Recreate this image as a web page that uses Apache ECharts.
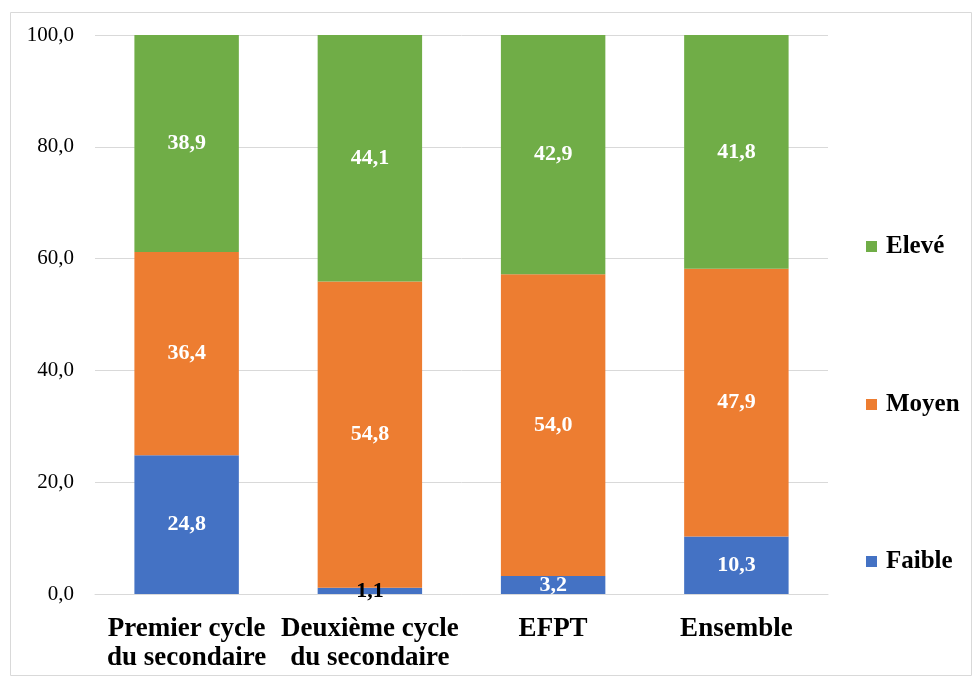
<!DOCTYPE html>
<html><head><meta charset="utf-8">
<script src="https://cdn.jsdelivr.net/npm/echarts@6/dist/echarts.min.js"></script>
<style>html,body{margin:0;padding:0;background:#fff}#c{width:973px;height:677px}</style>
</head><body><div id="c"></div>
<script>
const categories = ['Premier cycle\ndu secondaire', 'Deuxième cycle\ndu secondaire', 'EFPT', 'Ensemble'];
const faible = [24.8, 1.1, 3.2, 10.3];
const moyen = [36.4, 54.8, 54.0, 47.9];
const eleve = [38.9, 44.1, 42.9, 41.8];
const yTicks = [0, 20, 40, 60, 80, 100];

const FONT = '"Liberation Serif", "Times New Roman", serif';
const fmt = v => v.toFixed(1).replace('.', ',');
const lbl = {show: true, position: 'inside', color: '#fff', fontFamily: FONT, fontWeight: 'bold', fontSize: 22, formatter: p => fmt(p.value)};

const chart = echarts.init(document.getElementById('c'));
function legend(name, top) {
  return {data: [name], orient: 'vertical', left: 866, top: top, padding: 0, itemWidth: 11, itemHeight: 11, itemGap: 0,
    icon: 'rect', textStyle: {fontFamily: FONT, fontWeight: 'bold', fontSize: 25, color: '#000', padding: [0, 0, 0, 4]}, selectedMode: false};
}
chart.setOption({
  animation: false,
  graphic: [{type: 'rect', shape: {x: 10.5, y: 12.5, width: 961, height: 663}, style: {fill: 'none', stroke: '#d9d9d9', lineWidth: 1}, silent: true}],
  grid: {left: 95, right: 145, top: 35, bottom: 83},
  legend: [legend('Elevé', 234), legend('Moyen', 392), legend('Faible', 549)],
  xAxis: {type: 'category', data: categories,
    axisLine: {lineStyle: {color: '#d9d9d9'}}, axisTick: {show: false},
    axisLabel: {interval: 0, fontFamily: FONT, fontWeight: 'bold', fontSize: 27, color: '#000', lineHeight: 29, margin: 21}},
  yAxis: {type: 'value', min: yTicks[0], max: yTicks[yTicks.length - 1], interval: 20,
    axisLine: {show: false}, axisTick: {show: false},
    splitLine: {lineStyle: {color: '#d9d9d9'}},
    axisLabel: {fontFamily: FONT, fontSize: 21, color: '#000', margin: 21, formatter: v => fmt(v)}},
  series: [
    {name: 'Faible', type: 'bar', stack: 's', barCategoryGap: '43%', itemStyle: {color: '#4472C4'},
      label: lbl, data: faible.map((v, i) => i === 1 ? {value: v, label: {color: '#000'}} : v)},
    {name: 'Moyen', type: 'bar', stack: 's', itemStyle: {color: '#ED7D31'}, label: lbl, data: moyen},
    {name: 'Elevé', type: 'bar', stack: 's', itemStyle: {color: '#70AD47'}, label: lbl, data: eleve}
  ]
});
</script></body></html>
